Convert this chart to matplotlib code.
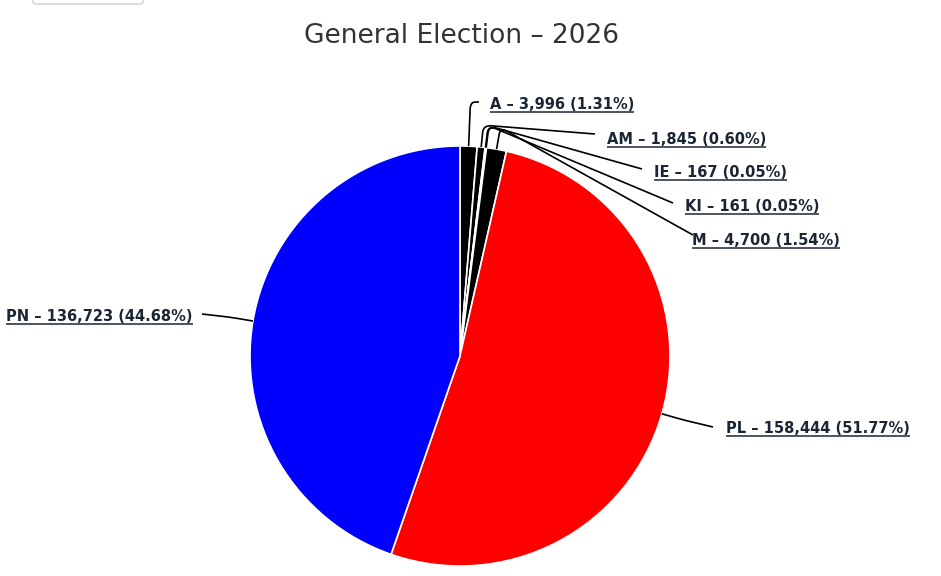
"""Pie chart of the 2026 general election vote share."""

import matplotlib
matplotlib.use("Agg")
import matplotlib.pyplot as plt
import numpy as np
from matplotlib.path import Path
from matplotlib.patches import PathPatch, FancyBboxPatch

parties = ["A", "AM", "IE", "KI", "M", "PL", "PN"]
votes = [3996, 1845, 167, 161, 4700, 158444, 136723]
shares = [1.31, 0.60, 0.05, 0.05, 1.54, 51.77, 44.68]
colors = ["#000000", "#000000", "#000000", "#000000", "#000000", "#ff0000", "#0000ff"]

W, H = 941, 576
CX, CY, R = 460, 576 - 356, 210
TEXT_COLOR = "#1a2634"

# label anchor (text x, baseline y, align), connector end and bend distance,
# in screen pixels (y down)
label_pos = {
    "A": (490, 109, "left", (479, 102), 44),
    "AM": (607, 144, "left", (595, 134), 22),
    "IE": (654, 177, "left", (642, 169), 22),
    "KI": (685, 211, "left", (673, 203), 22),
    "M": (692, 245, "left", (693, 235), 22),
    "PL": (726, 433, "left", (713, 427), 22),
    "PN": (193, 321, "right", (202, 314), 22),
}

fig = plt.figure(figsize=(W / 100, H / 100), dpi=100)
ax = fig.add_axes([0, 0, 1, 1])

wedges, _ = ax.pie(
    votes,
    colors=colors,
    startangle=90,
    counterclock=False,
    center=(CX, CY),
    radius=R,
    wedgeprops={"edgecolor": "white", "linewidth": 1.2},
    frame=True,
)
ax.set_xlim(0, W)
ax.set_ylim(0, H)
ax.set_aspect("equal")
ax.set_axis_off()

texts = []
for w, name, v, s in zip(wedges, parties, votes, shares):
    mid = np.deg2rad((w.theta1 + w.theta2) / 2)
    ux, uy = np.cos(mid), np.sin(mid)
    tx, ty, ha, end, bend = label_pos[name]
    p0 = np.array([CX + R * ux, CY + R * uy])
    c = np.array([CX + (R + bend) * ux, CY + (R + bend) * uy])
    end = np.array([end[0], H - end[1]])
    to_end = (end - c) / np.linalg.norm(end - c)
    c1 = c - 7 * np.array([ux, uy])
    c2 = c + min(8, np.linalg.norm(end - c) * 0.5) * to_end
    path = Path([p0, c1, c, c2, end],
                [Path.MOVETO, Path.LINETO, Path.CURVE3, Path.CURVE3, Path.LINETO])
    ax.add_patch(PathPatch(path, fill=False, edgecolor="black", lw=1.2))

    t = ax.text(tx, H - ty, f"{name} – {v:,} ({s:.2f}%)", ha=ha, va="baseline",
                fontsize=10.5, fontweight="bold", color=TEXT_COLOR)
    texts.append(t)

fig.text(0.49, 1 - 43 / H, "General Election – 2026", ha="center", va="baseline",
         fontsize=19, color="#333333")

# small button outline at the top left
fig.patches.append(FancyBboxPatch((33 / W, 1 - 4 / H), 110 / W, 20 / H,
                                  boxstyle="round,pad=0,rounding_size=0.004",
                                  transform=fig.transFigure, facecolor="white",
                                  edgecolor="#cccccc", lw=1))

# underline the labels
fig.canvas.draw()
renderer = fig.canvas.get_renderer()
inv = ax.transData.inverted()
for t in texts:
    bb = t.get_window_extent(renderer)
    x0, _ = inv.transform((bb.x0, 0))
    x1, _ = inv.transform((bb.x1, 0))
    yb = t.get_position()[1] - 2.5
    ax.plot([x0, x1], [yb, yb], color=TEXT_COLOR, lw=1.1, solid_capstyle="butt")

fig.savefig("out.png", dpi=100)
